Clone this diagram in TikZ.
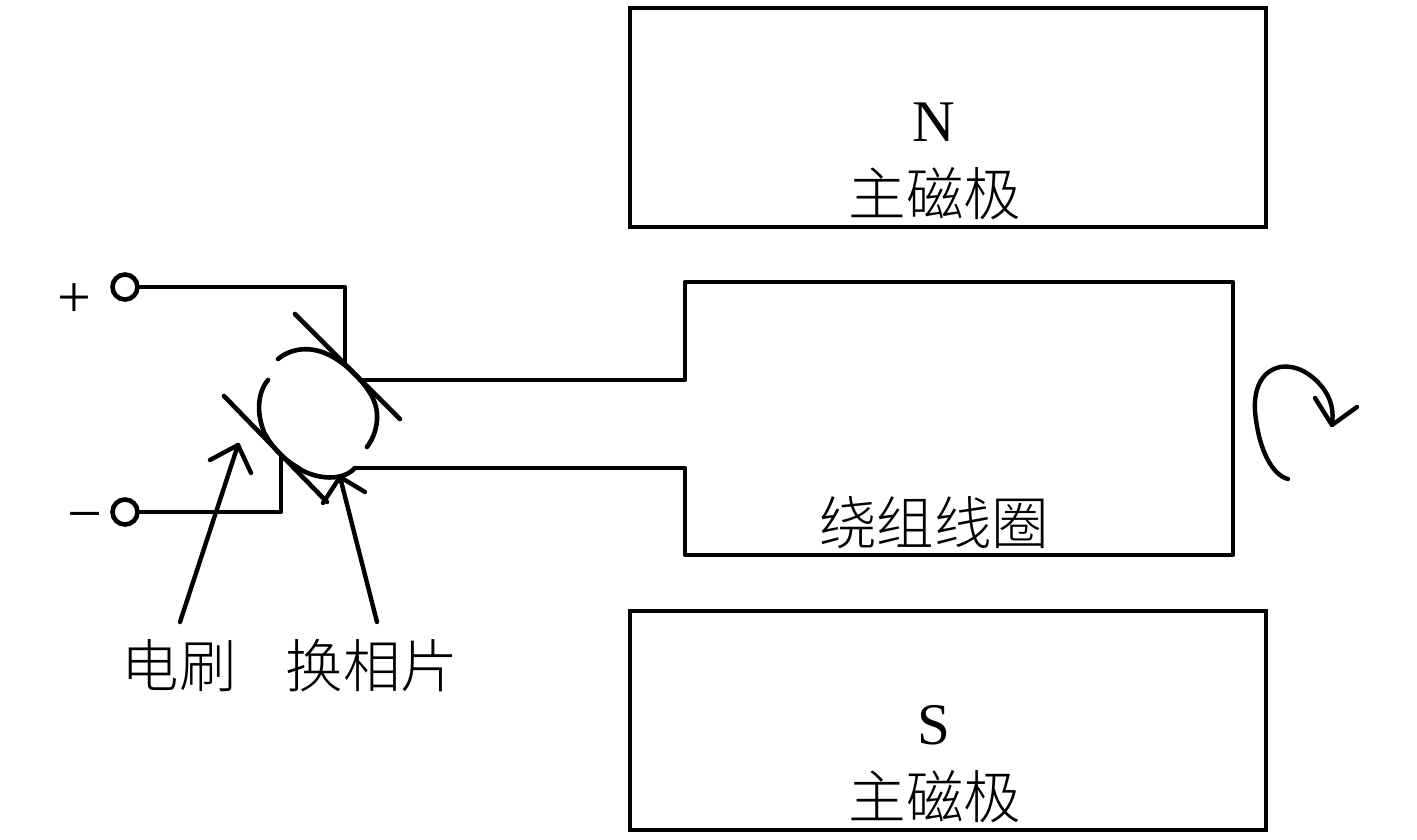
\documentclass[tikz,border=0pt]{standalone}
\usepackage{fontspec}
\setmainfont{Liberation Serif}
\newfontfamily\cjk{Noto Sans CJK SC Light}
\tikzset{
  wire/.style={line width=4.6pt,line cap=round,line join=round,black},
  thinw/.style={line width=4.4pt,line cap=round,line join=round,black},
  polebox/.style={draw,line width=3.8pt,rectangle,inner sep=0pt,minimum width=636pt,minimum height=219pt},
  term/.style={draw,line width=4.6pt,circle,inner sep=0pt,minimum size=25pt,fill=white},
  lat/.style={inner sep=0pt,font=\fontsize{59}{59}\selectfont},
  han/.style={inner sep=0pt,font=\fontsize{57.5}{57.5}\selectfont\cjk},
}
\begin{document}
\begin{tikzpicture}[x=1pt,y=-1pt]
\useasboundingbox (0,0) rectangle (1417,839);
\node[polebox] (boxN) at (948,117.5) {};
\node[polebox] (boxS) at (948,720.5) {};
\node[lat] (tN) at (934,122) {N};
\node[han] (tN2) at (935,194) {主磁极};
\node[lat] (tS) at (934,725) {S};
\node[han] (tS2) at (935,797) {主磁极};
\node[han] (tC) at (934,523) {绕组线圈};
\node[han] (tB) at (179,666) {电刷};
\node[han] (tK) at (372,666) {换相片};
\node[inner sep=0pt,font=\fontsize{60}{60}\selectfont] (tP) at (74,301) {+};
\node[inner sep=0pt,font=\fontsize{62}{62}\selectfont] (tM) at (85,523) {−};
% coordinates
\coordinate (c1) at (345,362);
\coordinate (c2) at (281,455);
\coordinate (w1) at (362,380);
\coordinate (w2) at (355,468);
\coordinate (b1a) at (295,314); \coordinate (b1b) at (400,419);
\coordinate (b2a) at (224,396); \coordinate (b2b) at (327,502);
\coordinate (k1) at (685,380); \coordinate (k2) at (685,282);
\coordinate (k3) at (1233,282); \coordinate (k4) at (1233,555);
\coordinate (k5) at (685,555); \coordinate (k6) at (685,468);
\coordinate (a1s) at (180,622); \coordinate (a1e) at (238,445);
\coordinate (a2s) at (377,622); \coordinate (a2e) at (340,477);
\node[term] (tp) at (125,287) {};
\node[term] (tm) at (125,512) {};
% wires
\draw[wire] (tp.east) -| (c1);
\draw[wire] (tm.east) -| (c2);
\draw[wire] (w1) -- (k1) -- (k2) -- (k3) -- (k4) -- (k5) -- (k6) -- (w2);
% brushes
\draw[wire] (b1a) -- (b1b);
\draw[wire] (b2a) -- (b2b);
% commutator
\draw[wire] (278,359) .. controls (290,349) and (310,344) .. (333,357)
  .. controls (345,364) and (353,372) .. (362,382)
  .. controls (372,394) and (378,405) .. (377,420)
  .. controls (376,432) and (372,440) .. (367,447);
\draw[wire] (268,380) .. controls (258,392) and (256,412) .. (264,432)
  .. controls (272,448) and (285,460) .. (297,467)
  .. controls (310,477) and (340,484) .. (355,468);
% pointers
\draw[thinw] (a1s) -- (a1e);
\draw[thinw] (210,460) -- (a1e) -- (251,473);
\draw[thinw] (a2s) -- (a2e);
\draw[thinw] (323,503) -- (a2e) -- (365,492);
% rotation
\draw[thinw] (1288,479) .. controls (1272,475) and (1260,450) .. (1256,420)
  .. controls (1252,395) and (1258,372) .. (1280,367)
  .. controls (1300,364) and (1315,378) .. (1323,388)
  .. controls (1331,399) and (1334,410) .. (1332,425);
\draw[thinw] (1315,398) -- (1332,425) -- (1357,407);
\end{tikzpicture}
\end{document}
